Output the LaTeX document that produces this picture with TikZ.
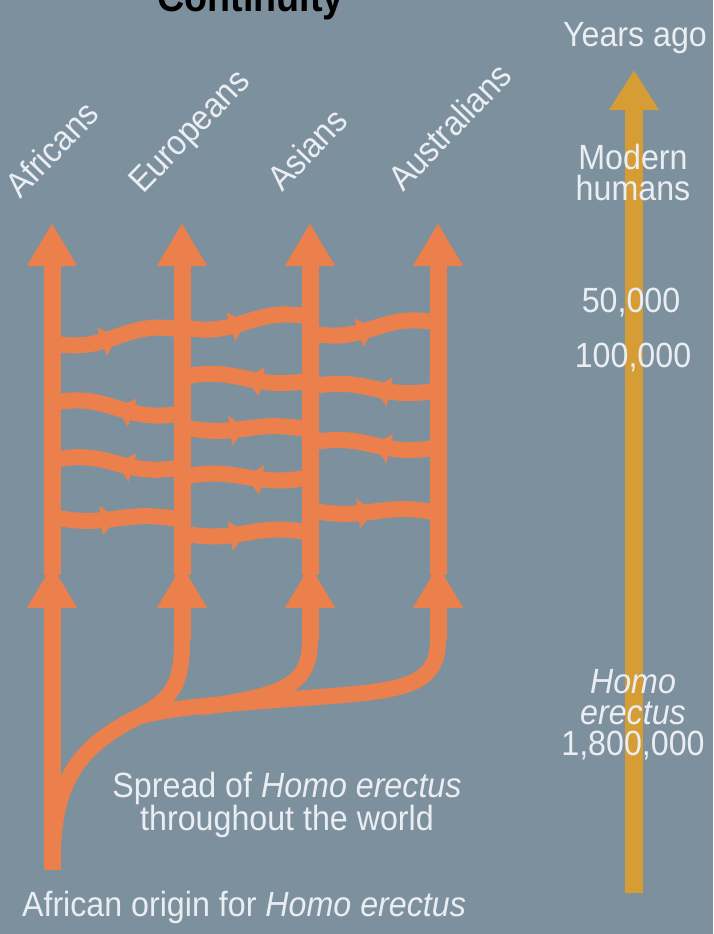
\documentclass[tikz,border=0pt]{standalone}
\usepackage{fontspec}
\setmainfont{Liberation Sans}[FakeStretch=0.92]
\usepackage{tikz}
\usetikzlibrary{positioning, calc, arrows.meta, decorations.markings}
\definecolor{bgslate}{RGB}{125, 144, 157}
\definecolor{flowor}{RGB}{236, 128, 76}
\definecolor{axisgold}{RGB}{214, 157, 52}
\definecolor{labwhite}{RGB}{234, 238, 242}

\begin{document}
\begin{tikzpicture}[x=1pt, y=-1pt, every node/.style={text=labwhite, inner sep=0pt, font=\fontsize{35}{31}\selectfont}]
    \tikzstyle{shaft} = [draw=flowor, line width=17pt, -{Triangle[length=43pt, width=47pt]}]
    \tikzstyle{branch} = [draw=flowor, line width=16pt]
    \tikzstyle{strand} = [draw=flowor, line width=16pt, postaction={decorate}, decoration={markings, mark=at position 0.5 with {\arrow[flowor]{Triangle[length=16pt, width=29pt]}}}]
    \tikzstyle{timeline} = [draw=axisgold, line width=18pt, -{Triangle[length=40pt, width=47pt]}]
    \tikzstyle{pop} = [rotate=46, anchor=base west]

    \useasboundingbox (0,0) rectangle (713,934);
    \clip (0,0) rectangle (713,934);
    \fill [bgslate] (0,0) rectangle (713,934);

    % cut-off title
    \node (title) [anchor=base west, text=black, font=\fontsize{41}{41}\selectfont\bfseries] at (157,12) {Continuity};

    % time axis
    \coordinate (axis-bot) at (634,893);
    \coordinate (axis-top) at (634,70);
    \draw [timeline] (axis-bot) -- (axis-top);
    \node (yearsago) at (635,38) {Years ago};
    \node (modern) [align=center] at (633,172) {Modern\\humans};
    \node (k50) at (631,303) {50,000};
    \node (k100) at (633,358) {100,000};
    \node (erectus) [align=center] at (633,715) {\textit{Homo}\\\textit{erectus}\\1,800,000};

    % lineages
    \foreach \name/\x in {af/52, eu/182, as/310, au/438} {
        \coordinate (\name-top) at (\x,223);
        \coordinate (\name-mid) at (\x,565);
        \coordinate (\name-low) at (\x,640);
    }
    \coordinate (af-low) at (52,870);
    \coordinate (split1) at (140,716);
    \coordinate (split2) at (215,705);

    % spread out of Africa
    \draw [branch] (53,850) .. controls (55,780) and (80,745) .. (split1) .. controls (175,698) and (182,680) .. (eu-low);
    \draw [branch] (split1) .. controls (165,710) and (190,707) .. (split2);
    \draw [branch] ($(split2)+(-12,2)$) .. controls (285,695) and (310,685) .. (as-low);
    \draw [branch] (split2) .. controls (380,690) and (438,700) .. (au-low);

    \foreach \name in {af, eu, as, au} {
        \draw [shaft] (\name-low) -- (\name-mid);
        \draw [shaft] ($(\name-mid)+(0,10)$) -- (\name-top);
    }

    % gene flow between regions
    \foreach \xa/\ya/\xb/\yb in {52/343/182/330, 182/413/52/403, 182/467/52/460, 52/517/182/520,
                                 182/327/310/317, 310/380/182/377, 182/427/310/430, 310/477/182/477, 182/533/310/533,
                                 310/333/438/323, 438/390/310/387, 438/447/310/443, 310/510/438/513} {
        \draw [strand] (\xa,\ya) .. controls ($(\xa,\ya)!0.45!(\xb,\ya)+(0,12)$) and ($(\xb,\yb)!0.45!(\xa,\yb)+(0,-12)$) .. (\xb,\yb);
    }

    % regional populations
    \node (lbl-af) [pop] at (20,200) {Africans};
    \node (lbl-eu) [pop] at (143,195) {Europeans};
    \node (lbl-as) [pop] at (282,193) {Asians};
    \node (lbl-au) [pop] at (403,193) {Australians};

    \node (spread) [align=center] at (287,805) {Spread of \textit{Homo erectus}\\throughout the world};
    \node (origin) at (244,907) {African origin for \textit{Homo erectus}};
\end{tikzpicture}
\end{document}
